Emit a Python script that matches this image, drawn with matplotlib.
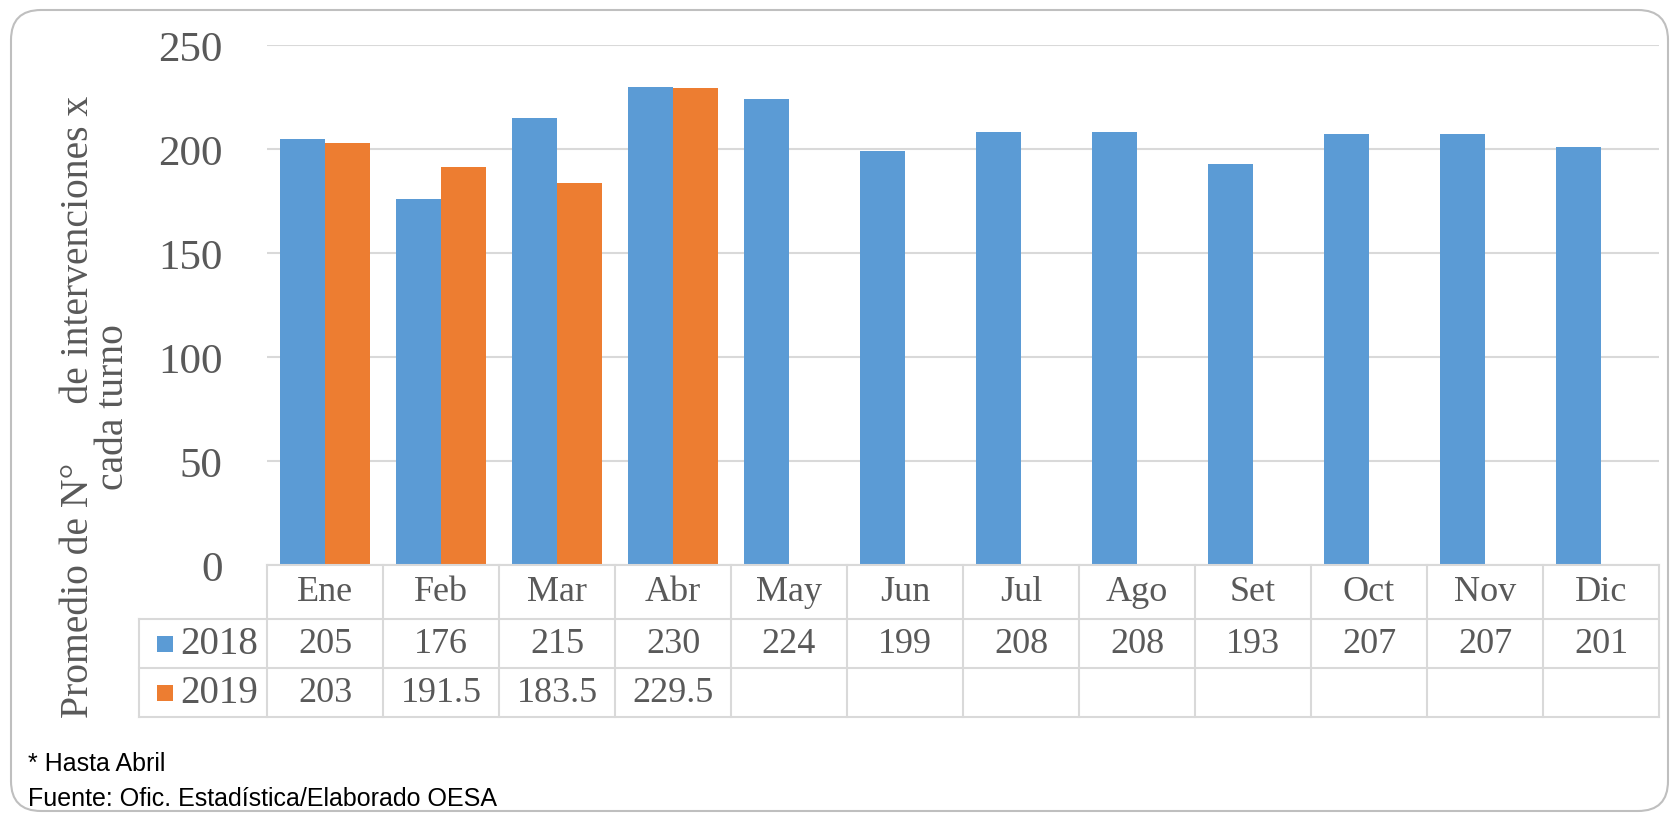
import matplotlib.pyplot as plt
from matplotlib.patches import FancyBboxPatch, Rectangle
import numpy as np

months = ['Ene', 'Feb', 'Mar', 'Abr', 'May', 'Jun', 'Jul', 'Ago', 'Set', 'Oct', 'Nov', 'Dic']
series_names = ['2018', '2019']
values_2018 = [205, 176, 215, 230, 224, 199, 208, 208, 193, 207, 207, 201]
values_2019 = [203, 191.5, 183.5, 229.5]
y_ticks = [0, 50, 100, 150, 200, 250]

blue = '#5B9BD5'
orange = '#ED7D31'
grid_color = '#D9D9D9'
text_color = '#595959'
serif = 'Liberation Serif'

W, H = 1675, 820
fig = plt.figure(figsize=(W / 100, H / 100), dpi=100)

# rounded outer frame
frame = FancyBboxPatch((0.11, 0.08), 16.57, 8.01, boxstyle='round,pad=0,rounding_size=0.3',
                       transform=fig.dpi_scale_trans, facecolor='none',
                       edgecolor='#BFBFBF', linewidth=1.5, zorder=-1)
fig.patches.append(frame)

# axes in pixels
left, right, top, bottom = 267, 1659, 46, 566
ax_h = bottom - top
ax = fig.add_axes([left / W, (H - bottom) / H, (right - left) / W, ax_h / H])
ax.patch.set_alpha(0)

x = np.arange(len(months))
bw = 0.39
ax.bar(x - bw / 2, values_2018, width=bw, color=blue, zorder=3)
ax.bar(x[:len(values_2019)] + bw / 2, values_2019, width=bw, color=orange, zorder=3)

ax.set_xlim(-0.5, len(months) - 0.5)
ax.set_ylim(0, 250)
ax.set_yticks(y_ticks)
ax.set_xticks([])
ax.yaxis.grid(True, color=grid_color, linewidth=1.5, zorder=0)
for s in ['top', 'right', 'left', 'bottom']:
    ax.spines[s].set_visible(False)
ax.tick_params(axis='y', length=0, pad=32, labelsize=31, labelcolor=text_color)
for lbl in ax.get_yticklabels():
    lbl.set_family(serif)

# data table below the axes
tr = ax.get_xaxis_transform()


def yf(px):
    # pixels below the axes bottom -> axes fraction
    return -px / ax_h


row_edges = [0, 54, 103, 152]
leg_x = -0.5 + (139 - left) / ((right - left) / len(months))
line_kw = dict(color=grid_color, linewidth=1.5, transform=tr, clip_on=False, zorder=4)

ax.plot([-0.5, 11.5], [yf(row_edges[0])] * 2, **line_kw)
for e in row_edges[1:]:
    ax.plot([leg_x, 11.5], [yf(e)] * 2, **line_kw)
for k in range(len(months) + 1):
    ax.plot([k - 0.5] * 2, [yf(row_edges[0]), yf(row_edges[-1])], **line_kw)
ax.plot([leg_x] * 2, [yf(row_edges[1]), yf(row_edges[-1])], **line_kw)

txt_kw = dict(transform=tr, ha='center', va='center', family=serif,
              color=text_color, fontsize=26, clip_on=False)
for i, m in enumerate(months):
    ax.text(i, yf((row_edges[0] + row_edges[1]) / 2), m, **txt_kw)
rows = [values_2018, values_2019]
for r, vals in enumerate(rows):
    yc = yf((row_edges[r + 1] + row_edges[r + 2]) / 2)
    for i, v in enumerate(vals):
        ax.text(i, yc, f'{v:g}', **txt_kw)

# legend keys in the row labels
colors = [blue, orange]
for r, name in enumerate(series_names):
    yc_px = (row_edges[r + 1] + row_edges[r + 2]) / 2 + bottom
    fig.patches.append(Rectangle((157 / W, (H - yc_px - 8) / H), 16 / W, 16 / H,
                                 transform=fig.transFigure, facecolor=colors[r],
                                 edgecolor='none'))
    fig.text(180 / W, (H - yc_px) / H, name, ha='left', va='center', family=serif,
             color=text_color, fontsize=28)

# y label
fig.text(96 / W, 1 - 407 / H, 'Promedio de N°      de intervenciones x\ncada turno',
         rotation=90, ha='center', va='center', multialignment='center',
         family=serif, color=text_color, fontsize=28.5, linespacing=0.95)

# footnotes
fig.text(28 / W, 1 - 764 / H, '* Hasta Abril', ha='left', va='center',
         family='Liberation Sans', fontsize=18, color='black')
fig.text(28 / W, 1 - 799 / H, 'Fuente: Ofic. Estadística/Elaborado OESA', ha='left',
         va='center', family='Liberation Sans', fontsize=18, color='black')

fig.savefig('out.png', dpi=100)
